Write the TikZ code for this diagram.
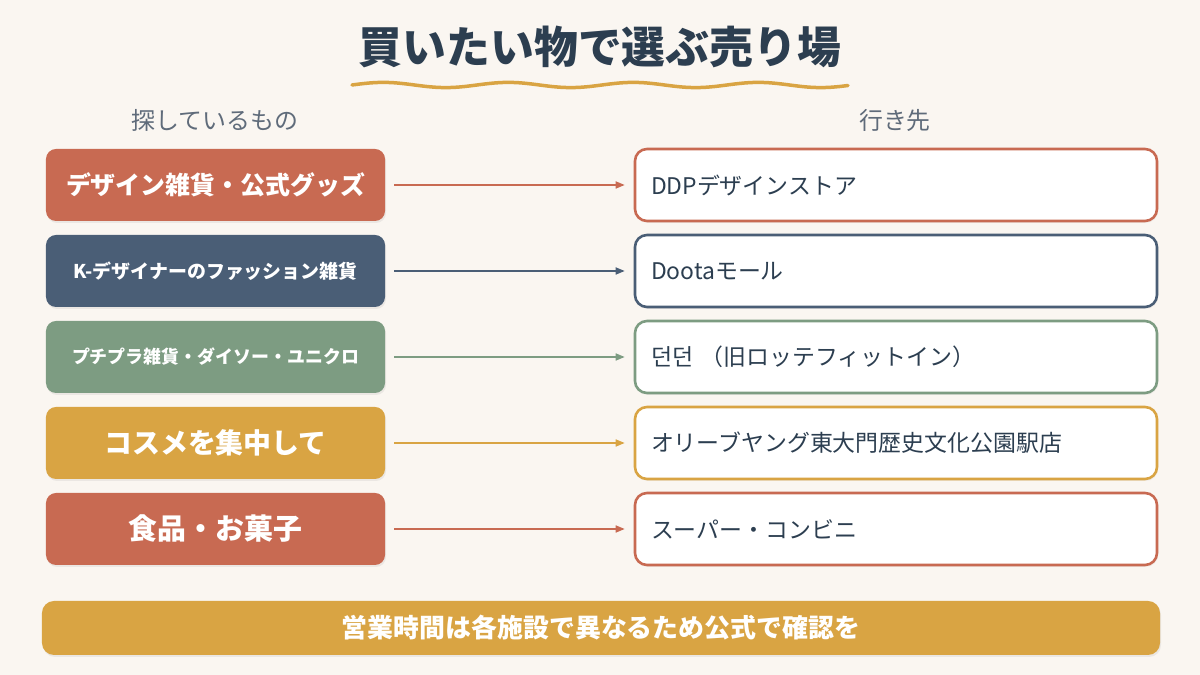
\documentclass[tikz,border=0pt]{standalone}
\usepackage{fontspec}
\setmainfont{Noto Sans CJK JP}
\newfontfamily\krfont{Noto Sans CJK KR}
\usepackage{tikz}
\usetikzlibrary{arrows.meta,positioning,shadows}
\definecolor{bgcream}{RGB}{250,246,241}
\definecolor{cterra}{RGB}{200,106,82}
\definecolor{cslate}{RGB}{74,94,118}
\definecolor{csage}{RGB}{125,156,130}
\definecolor{cgold}{RGB}{217,164,67}
\definecolor{ctitle}{RGB}{44,62,80}
\definecolor{chead}{RGB}{95,107,122}
\tikzset{
  want/.style={rounded corners=10bp, minimum width=339bp, minimum height=72bp,
    inner sep=0pt, text=white, font=\bfseries,
    drop shadow={opacity=0.12, shadow xshift=1bp, shadow yshift=-2bp}},
  dest/.style={rounded corners=12bp, fill=white, line width=2.6bp,
    text width=490bp, align=left, inner xsep=16bp, minimum height=72bp,
    text=ctitle, font=\fontsize{23}{26}\selectfont,
    drop shadow={opacity=0.08, shadow xshift=1bp, shadow yshift=-2bp}},
  garr/.style={-{Triangle[length=9bp,width=7bp]}, line width=1.6bp,
    shorten <=9bp, shorten >=9bp},
  colhead/.style={text=chead, font=\fontsize{24}{28}\selectfont},
}
\begin{document}
\begin{tikzpicture}[x=1bp,y=1bp]
\fill[bgcream] (0,0) rectangle (1200,675);
\useasboundingbox (0,0) rectangle (1200,675);
% title
\node[text=ctitle, font=\fontsize{44}{50}\selectfont\bfseries] (title) at (600,628) {買いたい物で選ぶ売り場};
\draw[cgold, line width=3.5bp, line cap=round, domain=352:848, samples=120, smooth]
  plot (\x, {590+2.6*sin(2.88*(\x-352))});
% column headers
\node[colhead] (hwant) at (215,555) {探しているもの};
\node[colhead] (hdest) at (895,555) {行き先};
% left column
\node[want, fill=cterra, font=\fontsize{25}{28}\selectfont\bfseries] (w1) at (215.5,490) {デザイン雑貨・公式グッズ};
\node[want, fill=cslate, font=\fontsize{19}{22}\selectfont\bfseries] (w2) at (215.5,404) {K-デザイナーのファッション雑貨};
\node[want, fill=csage, font=\fontsize{18}{22}\selectfont\bfseries] (w3) at (215.5,318) {プチプラ雑貨・ダイソー・ユニクロ};
\node[want, fill=cgold, font=\fontsize{28}{32}\selectfont\bfseries] (w4) at (215.5,232) {コスメを集中して};
\node[want, fill=cterra, font=\fontsize{29}{32}\selectfont\bfseries] (w5) at (215.5,146) {食品・お菓子};
% right column
\node[dest, draw=cterra] (d1) at (896,490) {DDPデザインストア};
\node[dest, draw=cslate] (d2) at (896,404) {Dootaモール};
\node[dest, draw=csage] (d3) at (896,318) {{\krfont 던던} （旧ロッテフィットイン）};
\node[dest, draw=cgold] (d4) at (896,232) {オリーブヤング東大門歴史文化公園駅店};
\node[dest, draw=cterra] (d5) at (896,146) {スーパー・コンビニ};
% arrows
\draw[garr, cterra] (w1.east) -- (d1.west);
\draw[garr, cslate] (w2.east) -- (d2.west);
\draw[garr, csage] (w3.east) -- (d3.west);
\draw[garr, cgold] (w4.east) -- (d4.west);
\draw[garr, cterra] (w5.east) -- (d5.west);
% note
\node[rounded corners=12bp, fill=cgold, minimum width=1118bp, minimum height=54bp,
  text=white, font=\fontsize{26}{30}\selectfont\bfseries,
  drop shadow={opacity=0.12, shadow xshift=1bp, shadow yshift=-2bp}] (note) at (601,47)
  {営業時間は各施設で異なるため公式で確認を};
\end{tikzpicture}
\end{document}
